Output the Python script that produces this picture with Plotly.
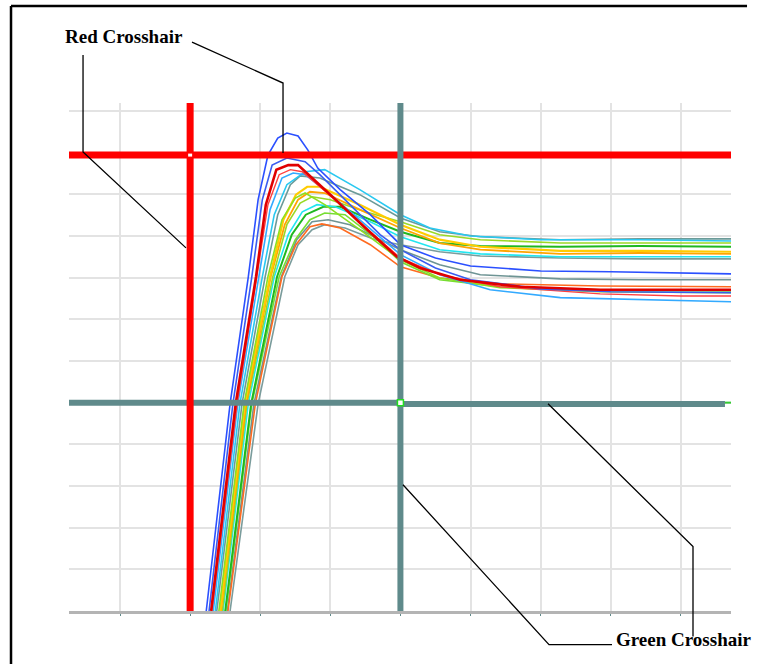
import plotly.graph_objects as go

blue_a_x = [22.3, 25.7, 28.3, 29.7, 31.1, 32.5, 33.8, 35.4, 36.8, 38.2, 41.4, 45.7, 50.0, 55, 60, 70, 80, 90, 97.2]
blue_a_y = [0, 49.7, 80.2, 98.7, 109.4, 113.5, 114.7, 114.0, 110.6, 106.3, 101.1, 95.1, 87.9, 84.7, 82.8, 81.6, 81.4, 81.1, 80.9]

blue_b_x = [22.7, 26.1, 28.8, 30.3, 31.7, 33.8, 36.4, 38.5, 42.8, 47.1, 50.0, 55, 60, 70, 80, 90, 97.2]
blue_b_y = [0, 49.7, 80.2, 98.7, 107.0, 108.7, 107.8, 104.7, 97.5, 90.3, 86.7, 82.3, 79.5, 77.3, 76.6, 76.4, 76.4]

red_x_vals = [23.0, 26.5, 29.4, 30.8, 32.3, 34.0, 35.4, 40.0, 45.0, 49.5, 52.8, 58.5, 67.1, 78.5, 90, 97.2]
red_y_vals = [0, 49.7, 80.2, 97.5, 105.9, 107.0, 107.0, 99.9, 91.9, 85.0, 82.3, 79.5, 77.8, 77.1, 77.1, 77.1]

lred_x = [23.1, 26.7, 29.5, 31.1, 32.7, 34.3, 36.0, 40.7, 45.7, 50.0, 55.6, 64.2, 78.5, 90, 97.2]
lred_y = [0, 49.7, 80.2, 97.5, 104.7, 105.9, 105.4, 98.7, 91.0, 84.7, 80.7, 77.8, 76.1, 75.6, 75.6]

lblue_x = [23.3, 26.8, 29.8, 31.4, 33.1, 34.7, 36.4, 40.0, 45.0, 50.0, 55.6, 62.8, 72.8, 84.2, 97.2]
lblue_y = [0, 49.7, 80.2, 96.3, 103.9, 105.1, 104.7, 99.9, 92.7, 85.5, 80.7, 77.1, 75.2, 74.7, 74.2]

cyantop_x = [23.6, 27.1, 30.3, 32.0, 33.8, 36.4, 39.2, 44.2, 50.0, 54.2, 60, 70, 84.2, 97.2]
cyantop_y = [0, 49.7, 80.2, 95.1, 102.3, 105.4, 105.9, 101.1, 95.1, 91.9, 90.0, 89.1, 89.1, 88.8]

graya_x = [23.8, 27.4, 30.7, 32.5, 34.3, 35.7, 38.5, 44.2, 50.0, 55.6, 61.4, 72.8, 84.2, 97.2]
graya_y = [0, 49.7, 80.2, 95.1, 102.3, 104.4, 103.9, 99.9, 94.3, 91.0, 89.8, 89.1, 89.3, 89.3]

limea_x = [24.1, 27.7, 31.1, 33.1, 35.0, 36.4, 39.2, 44.2, 50.0, 55.6, 64.2, 78.5, 97.2]
limea_y = [0, 49.7, 80.2, 93.9, 99.1, 100.3, 97.5, 91.5, 84.3, 79.9, 77.6, 76.6, 76.4]

yellow_x = [24.3, 27.8, 31.4, 33.3, 35.1, 36.7, 38.5, 44.2, 50.0, 55.6, 61.4, 72.8, 84.2, 97.2]
yellow_y = [0, 49.7, 80.2, 93.9, 99.9, 101.8, 101.8, 97.5, 92.7, 89.1, 87.4, 86.4, 86.4, 86.2]

orangey_x = [24.4, 28.0, 31.5, 33.5, 35.4, 37.1, 39.2, 44.2, 50.0, 55.6, 61.4, 72.8, 84.2, 97.2]
orangey_y = [0, 49.7, 80.2, 92.7, 98.7, 100.6, 100.3, 96.3, 91.9, 88.3, 86.7, 85.7, 85.9, 85.7]

limeb_x = [24.6, 28.1, 31.8, 33.8, 35.7, 37.4, 40.0, 45.0, 50.0, 55.6, 61.4, 72.8, 84.2, 97.2]
limeb_y = [0, 49.7, 80.2, 92.7, 97.9, 99.4, 98.7, 95.8, 93.4, 90.3, 89.1, 88.3, 88.3, 88.3]

cyan_x = [24.7, 28.3, 32.0, 34.0, 36.0, 38.1, 40.7, 45.7, 50.0, 55.6, 61.4, 72.8, 84.2, 97.2]
cyan_y = [0, 49.7, 80.2, 90.3, 95.8, 97.5, 97.0, 93.4, 89.8, 86.7, 85.7, 85.0, 85.0, 85.0]

green_x_vals = [25.0, 28.7, 32.4, 34.5, 36.5, 39.0, 41.4, 45.7, 50.0, 55.6, 61.4, 72.8, 84.2, 97.2]
green_y_vals = [0, 49.7, 80.2, 90.3, 95.1, 97.0, 97.0, 93.9, 91.0, 88.3, 87.6, 87.4, 87.6, 87.4]

limec_x = [25.1, 28.8, 32.7, 35.0, 37.1, 39.2, 42.1, 46.4, 50.0, 55.6, 64.2, 78.5, 97.2]
limec_y = [0, 49.7, 80.2, 89.1, 93.9, 95.5, 95.1, 89.5, 83.8, 79.5, 77.8, 77.1, 76.8]

grayb_x = [25.3, 29.1, 33.0, 35.2, 37.4, 39.7, 42.8, 47.1, 50.0, 55.6, 61.4, 72.8, 84.2, 97.2]
grayb_y = [0, 49.7, 80.2, 89.1, 93.4, 93.9, 92.7, 89.1, 86.7, 83.1, 80.7, 79.7, 79.5, 79.5]

orange_x = [25.4, 29.3, 33.1, 35.1, 37.1, 38.8, 41.4, 45.7, 50.0, 55.6, 64.2, 78.5, 97.2]
orange_y = [0, 49.7, 80.2, 87.9, 92.2, 92.9, 91.9, 87.9, 82.6, 79.9, 78.5, 78.0, 77.8]

grayc_x = [25.7, 29.7, 33.5, 35.4, 37.4, 39.2, 42.1, 46.4, 50.0, 55.6, 61.4, 72.8, 84.2, 97.2]
grayc_y = [0, 49.7, 80.2, 87.9, 91.5, 92.7, 91.9, 89.1, 87.9, 86.2, 85.2, 84.7, 84.5, 84.5]

# crosshair positions
red_cross_x = 20.0
red_cross_y = 109.4
green_cross_x = 50.0
green_cross_y = 50.0

x_range = [2.72, 97.16]
y_range = [0, 121.9]
grid_ticks_x = [10, 20, 30, 40, 50, 60, 70, 80, 90]
grid_ticks_y = [0, 10, 20, 30, 40, 50, 60, 70, 80, 90, 100, 110, 120]

curves = [
    (graya_x, graya_y, "#6b9a98", 1.6),
    (grayc_x, grayc_y, "#7a9c9c", 1.6),
    (grayb_x, grayb_y, "#6e9494", 1.6),
    (orange_x, orange_y, "#ff6a1f", 1.6),
    (limec_x, limec_y, "#77dd33", 1.6),
    (green_x_vals, green_y_vals, "#1fb81f", 2.0),
    (cyan_x, cyan_y, "#22e6f0", 1.6),
    (limeb_x, limeb_y, "#9ad926", 1.6),
    (orangey_x, orangey_y, "#ffa500", 1.8),
    (yellow_x, yellow_y, "#ffcc00", 2.2),
    (limea_x, limea_y, "#8be022", 1.6),
    (cyantop_x, cyantop_y, "#29c8f0", 1.6),
    (lblue_x, lblue_y, "#33aaff", 1.6),
    (lred_x, lred_y, "#ff4040", 1.4),
    (blue_b_x, blue_b_y, "#3a5cf0", 1.6),
    (red_x_vals, red_y_vals, "#e00000", 2.6),
    (blue_a_x, blue_a_y, "#2b50ff", 1.6),
]

fig = go.Figure()
for xs, ys, col, w in curves:
    fig.add_trace(go.Scatter(x=xs, y=ys, mode="lines", line=dict(color=col, width=w),
                             showlegend=False, hoverinfo="skip"))

RED = "#ff0000"
TEAL = "#5f8a8b"
shapes = []
# horizontals first, then verticals
shapes.append(dict(type="line", xref="x", yref="y", x0=x_range[0], x1=x_range[1],
                   y0=red_cross_y, y1=red_cross_y, line=dict(color=RED, width=7), layer="above"))
shapes.append(dict(type="line", xref="x", yref="y", x0=x_range[0], x1=green_cross_x,
                   y0=green_cross_y, y1=green_cross_y, line=dict(color=TEAL, width=6), layer="above"))
shapes.append(dict(type="line", xref="x", yref="y", x0=green_cross_x, x1=96.3,
                   y0=green_cross_y - 0.35, y1=green_cross_y - 0.35, line=dict(color=TEAL, width=6), layer="above"))
shapes.append(dict(type="line", xref="x", yref="y", x0=96.3, x1=x_range[1],
                   y0=green_cross_y, y1=green_cross_y, line=dict(color="#33cc33", width=2), layer="above"))
shapes.append(dict(type="line", xref="x", yref="y", x0=red_cross_x, x1=red_cross_x,
                   y0=y_range[0], y1=y_range[1], line=dict(color=RED, width=7), layer="above"))
shapes.append(dict(type="line", xref="x", yref="y", x0=green_cross_x, x1=green_cross_x,
                   y0=y_range[0], y1=y_range[1], line=dict(color=TEAL, width=6), layer="above"))
# intersection markers
shapes.append(dict(type="rect", xref="x", yref="y", xsizemode="pixel", ysizemode="pixel",
                   xanchor=red_cross_x, yanchor=red_cross_y, x0=-2, x1=2, y0=-1.5, y1=1.5,
                   fillcolor="white", line=dict(width=0), layer="above"))
shapes.append(dict(type="rect", xref="x", yref="y", xsizemode="pixel", ysizemode="pixel",
                   xanchor=green_cross_x, yanchor=green_cross_y, x0=-3, x1=3, y0=-3, y1=3,
                   fillcolor="white", line=dict(width=1.5, color="#22dd22"), layer="above"))

# leader lines (paper coords)
def path(pts):
    return "M " + " L ".join(f"{a} {b}" for a, b in pts)

leaders = [
    [(0.0212, 1.0944), (0.0212, 0.9036), (0.1767, 0.7148)],
    [(0.1858, 1.120), (0.3233, 1.0393), (0.3233, 0.9017)],
    [(0.5045, 0.2486), (0.7251, -0.0661), (0.8202, -0.0661)],
    [(0.7236, 0.408), (0.9426, 0.1267), (0.9426, -0.0504)],
]
for pts in leaders:
    shapes.append(dict(type="path", xref="paper", yref="paper", path=path(pts),
                       line=dict(color="black", width=1.3), layer="above"))

# outer frame (top and left edges)
shapes.append(dict(type="line", xref="paper", yref="paper", x0=-0.0876, x1=1.0242,
                   y0=1.1908, y1=1.1908, line=dict(color="black", width=2.5)))
shapes.append(dict(type="line", xref="paper", yref="paper", x0=-0.0876, x1=-0.0876,
                   y0=1.1908, y1=-0.12, line=dict(color="black", width=2.5)))

annotations = [
    dict(text="<b>Red Crosshair</b>", xref="paper", yref="paper", x=-0.0091, y=1.1318,
         xanchor="left", yanchor="middle", showarrow=False,
         font=dict(family="Liberation Serif", size=19, color="black")),
    dict(text="<b>Green Crosshair</b>", xref="paper", yref="paper", x=0.8233, y=-0.0563,
         xanchor="left", yanchor="middle", showarrow=False,
         font=dict(family="Liberation Serif", size=19, color="black")),
]

fig.update_layout(
    width=757, height=664,
    margin=dict(l=69, r=26, t=103, b=53, pad=0),
    paper_bgcolor="white", plot_bgcolor="white",
    shapes=shapes, annotations=annotations, showlegend=False,
    xaxis=dict(range=x_range, tickvals=grid_ticks_x, showticklabels=False, showgrid=True,
               gridcolor="#e3e3e3", gridwidth=2, zeroline=False, showline=True,
               linecolor="#b4b4b4", linewidth=3, ticks="outside", ticklen=2,
               tickcolor=TEAL, tickwidth=1),
    yaxis=dict(range=y_range, tickvals=grid_ticks_y, showticklabels=False, showgrid=True,
               gridcolor="#e3e3e3", gridwidth=2, zeroline=False, showline=False, ticks=""),
)

fig.write_html("out.html", config={"displayModeBar": False},
               post_script="document.body.style.margin='0';document.body.style.overflow='hidden';")
